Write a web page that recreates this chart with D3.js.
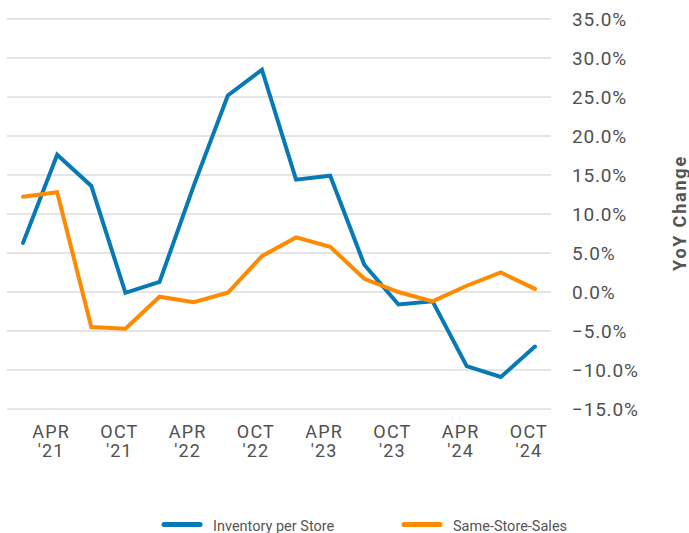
<!DOCTYPE html>
<html>
<head>
<meta charset="utf-8">
<script src="https://cdn.jsdelivr.net/npm/d3@7"></script>
<style>
  html, body { margin: 0; padding: 0; background: #fff; }
  svg { display: block; font-family: Roboto, "Noto Sans", sans-serif; }
</style>
</head>
<body>
<svg id="chart" width="689" height="533"></svg>
<script>
// ---- data ----
const quarters = ["JAN '21","APR '21","JUL '21","OCT '21","JAN '22","APR '22","JUL '22","OCT '22",
                  "JAN '23","APR '23","JUL '23","OCT '23","JAN '24","APR '24","JUL '24","OCT '24"];
const inventoryPerStore = [6.3, 17.6, 13.6, -0.1, 1.3, 13.6, 25.2, 28.5, 14.4, 14.9, 3.5, -1.6, -1.2, -9.5, -10.9, -7.0];
const sameStoreSales    = [12.2, 12.8, -4.5, -4.7, -0.6, -1.3, -0.1, 4.6, 7.0, 5.8, 1.7, 0.0, -1.2, 0.8, 2.5, 0.4];
const xTickLabels = ["APR '21","OCT '21","APR '22","OCT '22","APR '23","OCT '23","APR '24","OCT '24"];
const yTicks = [35, 30, 25, 20, 15, 10, 5, 0, -5, -10, -15];
const seriesNames = ["Inventory per Store", "Same-Store-Sales"];
const seriesColors = ["#0679b6", "#ff8a00"];

// ---- layout ----
const svg = d3.select("#chart");
const plotLeft = 7, plotRight = 551, plotTop = 19, plotBottom = 409;

const x = d3.scalePoint().domain(quarters).range([plotLeft, plotRight]).padding(0.47);
const y = d3.scaleLinear().domain([-15, 35]).range([plotBottom, plotTop]);

// gridlines
svg.append("g").selectAll("line").data(yTicks).join("line")
  .attr("x1", plotLeft).attr("x2", plotRight)
  .attr("y1", d => y(d)).attr("y2", d => y(d))
  .attr("stroke", "#dcdcdc").attr("stroke-width", 1.5);

// y axis labels (right)
const yAxis = d3.axisRight(y).tickValues(yTicks).tickSize(0).tickPadding(0)
  .tickFormat(d => d3.format(".1f")(d) + "%");
const yg = svg.append("g").attr("transform", `translate(572,0)`).call(yAxis);
yg.select(".domain").remove();
yg.selectAll("text")
  .attr("font-family", "Roboto, sans-serif")
  .attr("font-size", 19).attr("fill", "#505050").attr("letter-spacing", "0.8px")
  .attr("dy", "0.35em");

// y title
svg.append("text")
  .attr("transform", `translate(686,213) rotate(-90)`)
  .attr("text-anchor", "middle")
  .attr("font-size", 18).attr("font-weight", "bold")
  .attr("letter-spacing", "1.8px")
  .attr("fill", "#555")
  .text("YoY Change");

// x labels
const xg = svg.append("g");
xTickLabels.forEach(lbl => {
  const [mon, yr] = lbl.split(" ");
  const t = xg.append("text")
    .attr("x", x(lbl) - 6)
    .attr("text-anchor", "middle")
    .attr("font-size", 18).attr("fill", "#505050").attr("letter-spacing", "1.2px");
  t.append("tspan").attr("x", x(lbl) - 6).attr("y", 437.5).text(mon);
  t.append("tspan").attr("x", x(lbl) - 6).attr("y", 456.5).text(yr);
});

// lines
const line = d3.line().x((d, i) => x(quarters[i])).y(d => y(d)).curve(d3.curveLinear);
[inventoryPerStore, sameStoreSales].forEach((vals, k) => {
  svg.append("path").datum(vals)
    .attr("d", line)
    .attr("fill", "none")
    .attr("stroke", seriesColors[k])
    .attr("stroke-width", 4)
    .attr("stroke-linejoin", "miter")
    .attr("stroke-linecap", "round");
});

// legend
const legendX = [164, 404];
seriesNames.forEach((name, k) => {
  const g = svg.append("g").attr("transform", `translate(${legendX[k]},524.5)`);
  g.append("line").attr("x1", 0).attr("x2", 36).attr("y1", 0).attr("y2", 0)
    .attr("stroke", seriesColors[k]).attr("stroke-width", 5).attr("stroke-linecap", "round");
  g.append("text").attr("x", 49).attr("y", 6)
    .attr("font-size", 14.5).attr("fill", "#555").text(name);
});
</script>
</body>
</html>
